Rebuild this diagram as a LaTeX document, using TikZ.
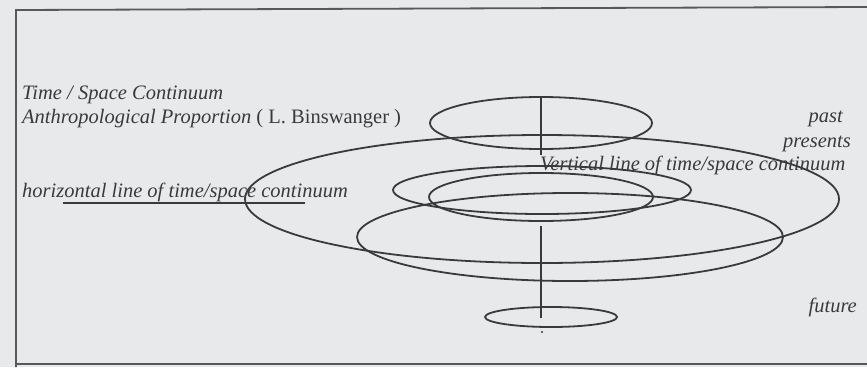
\documentclass[tikz,border=0pt]{standalone}
\usepackage{fontspec}
\setmainfont{Liberation Serif}
\definecolor{bg}{HTML}{E8E9EB}
\definecolor{ink}{HTML}{3A3A3A}
\begin{document}
\begin{tikzpicture}[x=1pt,y=-1pt,
  lbl/.style={inner sep=0pt, text=ink, font=\fontsize{20.5}{24}\selectfont\itshape},
  ring/.style={draw=ink, line width=1.8pt},
  frameline/.style={draw=ink!85, line width=1.8pt},
  axis/.style={draw=ink, line width=1.6pt}]
\fill[bg] (0,0) rectangle (867,367);
\useasboundingbox (0,0) rectangle (867,367);
% frame
\draw[frameline] (867,7) -- (16,10) -- (16,367);
\draw[frameline] (16,364) -- (867,364);
% texts
\node[lbl, anchor=base west] (t1) at (22,99) {Time / Space Continuum};
\node[lbl, anchor=base west] (t2) at (22,123) {Anthropological Proportion\/ \upshape( L. Binswanger )};
\node[lbl, anchor=base west] (hz) at (22,197) {horizontal line of time/space continuum};
\node[lbl, anchor=base east] (past) at (843,122) {past};
\node[lbl, anchor=base east] (pres) at (851,147) {presents};
\node[lbl, anchor=base east] (fut) at (857,312) {future};
% underline
\coordinate (u1) at (63,203);
\coordinate (u2) at (305,203);
\draw[axis] (u1) -- (u2);
% ellipses
\draw[ring] (541,123) ellipse [x radius=111pt, y radius=26pt];
\draw[ring] (542,199) ellipse [x radius=297pt, y radius=64pt];
\draw[ring] (542,190) ellipse [x radius=149pt, y radius=24pt];
\draw[ring] (541,197) ellipse [x radius=112pt, y radius=24pt];
\draw[ring] (570,237) ellipse [x radius=213pt, y radius=44pt];
\draw[ring] (551,317) ellipse [x radius=66pt, y radius=10pt];
% vertical axis
\coordinate (v1) at (541,97);
\coordinate (v2) at (541,155);
\coordinate (v3) at (541,226);
\coordinate (v4) at (541,318);
\draw[axis] (v1) -- (v2);
\draw[axis] (v3) -- (v4);
\fill[ink] (542,332) circle (1.2pt);
\node[lbl, anchor=base west] (vt) at (540,170) {Vertical line of time/space continuum};
\end{tikzpicture}
\end{document}
